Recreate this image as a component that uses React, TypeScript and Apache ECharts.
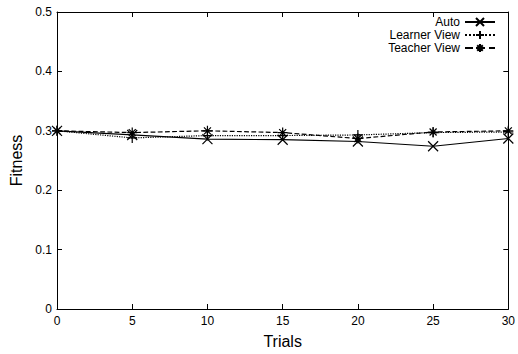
import React, { useEffect, useRef } from "react";
import * as echarts from "echarts";

const trials = [0, 5, 10, 15, 20, 25, 30];
const autoVals = [0.3, 0.293, 0.286, 0.285, 0.282, 0.274, 0.287];
const learnerVals = [0.3, 0.288, 0.292, 0.292, 0.293, 0.297, 0.298];
const teacherVals = [0.3, 0.297, 0.3, 0.297, 0.287, 0.298, 0.3];
const seriesNames = ["Auto", "Learner View", "Teacher View"];

const X_SYM = "path://M0,0L10,10M10,0L0,10";
const PLUS_SYM = "path://M5,0L5,10M0,5L10,5";
const STAR_SYM = "path://M5,0L5,10M0,5L10,5M1.5,1.5L8.5,8.5M8.5,1.5L1.5,8.5";

const FONT = "Liberation Sans, Arial, Helvetica, sans-serif";

export default function App() {
  const ref = useRef<HTMLDivElement>(null);
  useEffect(() => {
    if (!ref.current) return;
    const chart = echarts.init(ref.current, null, { renderer: "svg" });
    const pair = (vals: number[]) => trials.map((t, i) => [t, vals[i]]);
    const mkSeries = (name: string, vals: number[], sym: string, type: string) => ({
      name,
      type: "line",
      data: pair(vals),
      symbol: sym,
      symbolSize: 10,
      showAllSymbol: true,
      lineStyle: { color: "#000", width: 1.2, type },
      itemStyle: { color: "rgba(0,0,0,0)", borderColor: "#000", borderWidth: 1.2 },
      emphasis: { disabled: true },
    });
    const tickCommon = {
      axisLine: { show: true, onZero: false, lineStyle: { color: "#000", width: 1 } },
      axisTick: { show: true, inside: true, length: 5, lineStyle: { color: "#000" } },
      splitLine: { show: false },
    };
    chart.setOption({
      animation: false,
      textStyle: { fontFamily: FONT },
      grid: { left: 57, right: 6, top: 12, bottom: 42, containLabel: false },
      legend: {
        orient: "vertical",
        right: 17,
        top: 11,
        align: "right",
        itemGap: 1,
        itemWidth: 30,
        itemHeight: 10,
        textStyle: { fontSize: 12, color: "#000", fontFamily: FONT, padding: [0, 0, 0, 0] },
        data: seriesNames,
      },
      xAxis: [
        {
          type: "value",
          min: 0,
          max: 30,
          interval: 5,
          name: "Trials",
          nameLocation: "middle",
          nameGap: 24,
          nameTextStyle: { fontSize: 16, color: "#000", fontFamily: FONT },
          axisLabel: { fontSize: 12, color: "#000", margin: 6, fontFamily: FONT },
          ...tickCommon,
        },
        {
          type: "value",
          position: "top",
          min: 0,
          max: 30,
          interval: 5,
          axisLabel: { show: false },
          ...tickCommon,
        },
      ],
      yAxis: [
        {
          type: "value",
          min: 0,
          max: 0.5,
          interval: 0.1,
          name: "Fitness",
          nameLocation: "middle",
          nameGap: 31,
          nameTextStyle: { fontSize: 16, color: "#000", fontFamily: FONT },
          axisLabel: { fontSize: 12, color: "#000", margin: 5, fontFamily: FONT },
          ...tickCommon,
        },
        {
          type: "value",
          position: "right",
          min: 0,
          max: 0.5,
          interval: 0.1,
          axisLabel: { show: false },
          ...tickCommon,
        },
      ],
      series: [
        mkSeries(seriesNames[0], autoVals, X_SYM, "solid"),
        mkSeries(seriesNames[1], learnerVals, PLUS_SYM, "dotted"),
        mkSeries(seriesNames[2], teacherVals, STAR_SYM, "dashed"),
      ],
    });
    return () => chart.dispose();
  }, []);
  return <div ref={ref} style={{ width: 518, height: 354, position: "absolute", left: 0, top: 0 }} />;
}
